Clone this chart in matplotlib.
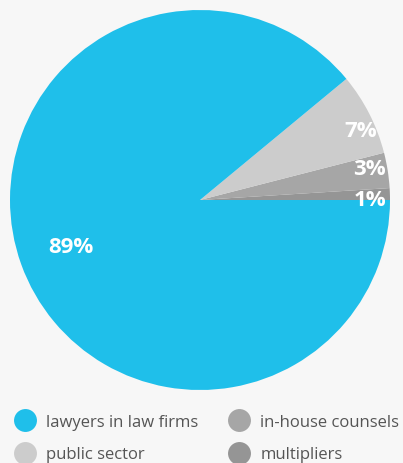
import matplotlib.pyplot as plt
from matplotlib.lines import Line2D
import numpy as np

plt.rcParams['font.family'] = ['Open Sans', 'DejaVu Sans']

# wedge order, counter-clockwise from 3 o'clock
categories = ["multipliers", "in-house counsels", "public sector", "lawyers in law firms"]
shares = [1, 3, 7, 89]
colors = ["#959595", "#a6a6a6", "#cccccc", "#1fbfea"]
label_radius = [0.895, 0.905, 0.92, 0.72]
label_shift = [-1.5, 1.5, -3.5, 0]  # degrees

bg = "#f7f7f7"
fig = plt.figure(figsize=(4.03, 4.64), dpi=100, facecolor=bg)
ax = fig.add_axes([10 / 403, 73 / 464, 380 / 403, 380 / 464])
ax.set_facecolor(bg)

wedges, _ = ax.pie(shares, colors=colors, startangle=0, counterclock=True,
                   radius=1, wedgeprops=dict(linewidth=0))
for w, v, r, s in zip(wedges, shares, label_radius, label_shift):
    ang = np.deg2rad((w.theta1 + w.theta2) / 2 + s)
    ax.text(r * np.cos(ang), r * np.sin(ang), f"{v}%", ha="center", va="center",
            color="white", fontsize=16, fontweight="bold")
ax.set_xlim(-1, 1)
ax.set_ylim(-1, 1)
ax.set_aspect("equal")
ax.axis("off")

legend_order = ["lawyers in law firms", "public sector", "in-house counsels", "multipliers"]
handles = [Line2D([], [], marker="o", linestyle="none", markersize=16.5,
                  markerfacecolor=colors[categories.index(c)], markeredgewidth=0)
           for c in legend_order]
leg = fig.legend(handles, legend_order, ncol=2, loc="lower left",
                 bbox_to_anchor=(-0.007, -0.031), frameon=False, fontsize=12,
                 handletextpad=0.55, columnspacing=1.65, labelspacing=1.0,
                 handlelength=1.5)
for t in leg.get_texts():
    t.set_color("#555555")

fig.savefig("out.png", dpi=100, facecolor=bg)
